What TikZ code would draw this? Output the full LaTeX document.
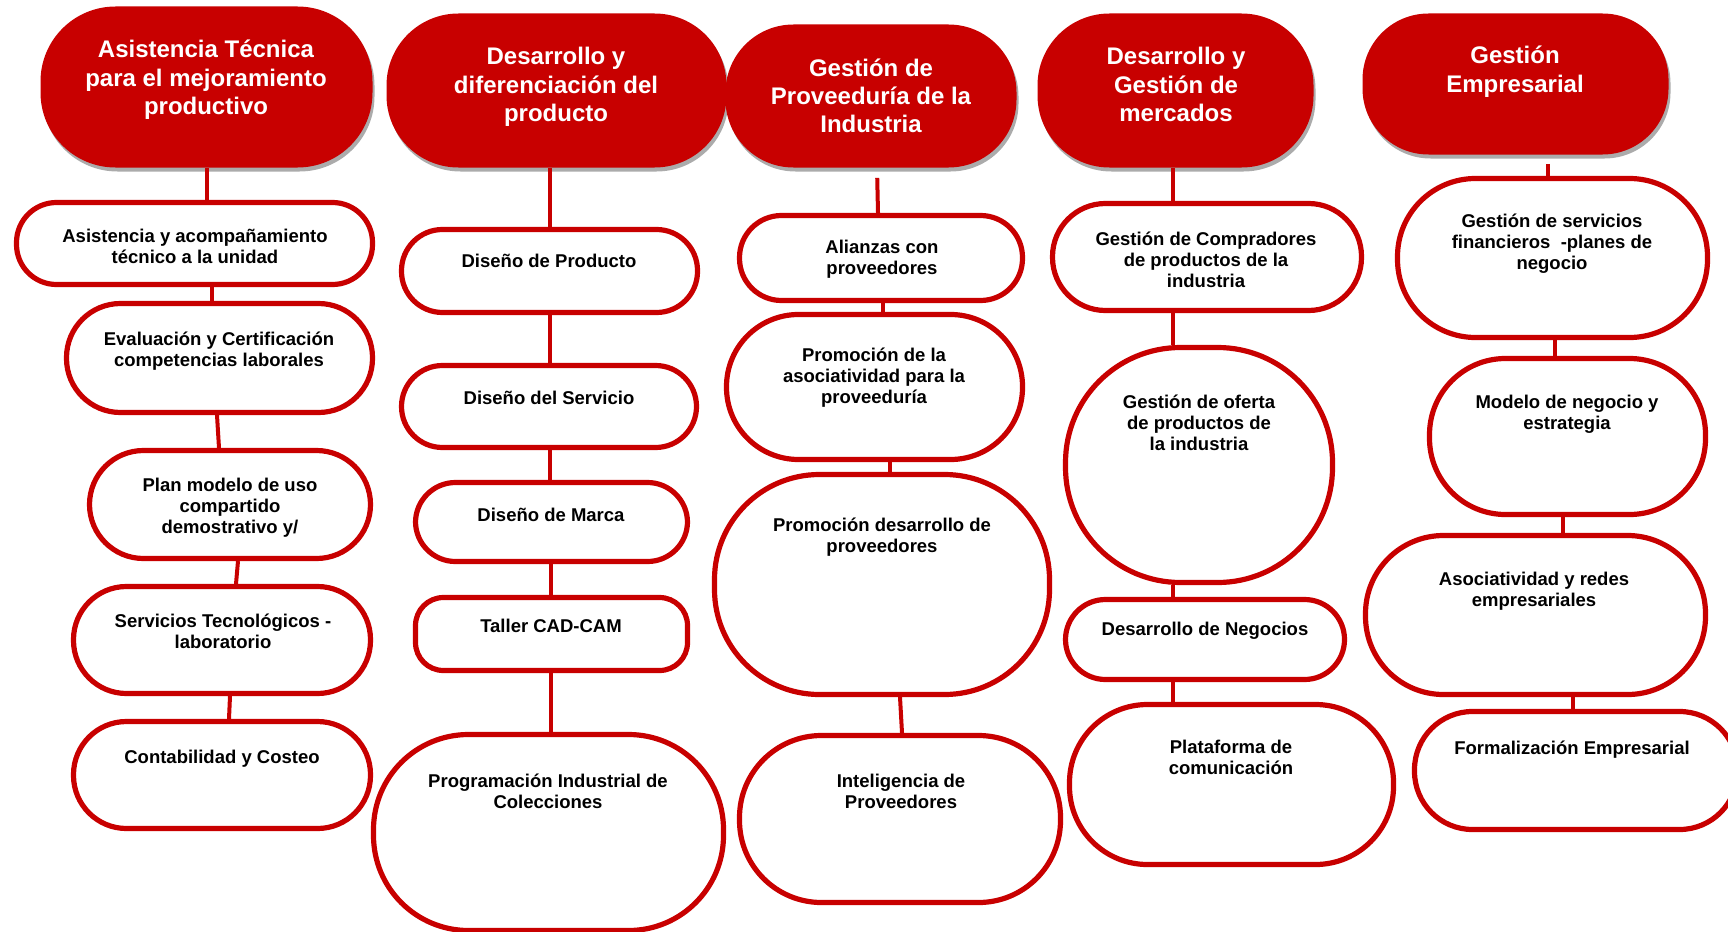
\documentclass[tikz,border=0pt]{standalone}
\usepackage{fontspec}
\setmainfont{Liberation Sans}
\usetikzlibrary{shadows}
\definecolor{brandred}{RGB}{200,0,0}

% centred multi-line text whose reference point is the first baseline
\newcommand\lns[1]{\begin{tabular}[t]{@{}c@{}}#1\end{tabular}}

% box from its outer extents: style, name, x1, y1, x2, y2, corner radius
\newcommand\boxat[7]{%
  \node[#1, minimum width={(#5-#3-5)*0.5pt}, minimum height={(#6-#4-5)*0.5pt},
        rounded corners={#7*0.5pt}] (#2) at ({(#3+#5)/2},{(#4+#6)/2}) {};}

\tikzset{
  headbox/.style={rectangle, fill=brandred, draw=none, inner sep=0pt,
    drop shadow={shadow xshift=1pt, shadow yshift=-2pt, fill=black!60, opacity=0.55}},
  itembox/.style={rectangle, fill=white, draw=brandred, line width=2.6pt, inner sep=0pt},
  headtxt/.style={anchor=base, inner sep=0pt, text=white,
    font=\fontsize{12}{14.15}\selectfont\bfseries},
  itemtxt/.style={anchor=base, inner sep=0pt, text=black,
    font=\fontsize{9.25}{10.5}\selectfont\bfseries},
  link/.style={draw=brandred, line width=2pt},
}

\begin{document}
\begin{tikzpicture}[x=0.5pt, y=-0.5pt]
\useasboundingbox (0,0) rectangle (1728,931);
\clip (0,0) rectangle (1728,931);

% ---------- column headers ----------
\boxat{headbox}{hA}{38}{4}{375}{170}{75}
\boxat{headbox}{hB}{384}{11}{729}{170}{72}
\boxat{headbox}{hC}{723}{22}{1019}{170}{68}
\boxat{headbox}{hD}{1035}{11}{1316}{170}{72}
\boxat{headbox}{hE}{1360}{11}{1671}{157}{66}

\node[headtxt] (thA) at (206,58)  {\lns{Asistencia Técnica\\para el mejoramiento\\productivo}};
\node[headtxt] (thB) at (556,65)  {\lns{Desarrollo y\\diferenciación del\\producto}};
\node[headtxt] (thC) at (871,76)  {\lns{Gestión de\\Proveeduría de la\\Industria}};
\node[headtxt] (thD) at (1176,65) {\lns{Desarrollo y\\Gestión de\\mercados}};
\node[headtxt] (thE) at (1515,64) {\lns{Gestión\\Empresarial}};

% ---------- column A ----------
\boxat{itembox}{a1}{14}{200}{375}{287}{40}
\boxat{itembox}{a2}{64}{301}{375}{415}{54}
\boxat{itembox}{a3}{87}{448}{373}{561}{54}
\boxat{itembox}{a4}{71}{584}{373}{696}{53}
\boxat{itembox}{a5}{71}{719}{373}{831}{53}

\node[itemtxt] (ta1) at (195,242) {\lns{Asistencia y acompañamiento\\técnico a la unidad}};
\node[itemtxt] (ta2) at (219,345) {\lns{Evaluación y Certificación\\competencias laborales}};
\node[itemtxt] (ta3) at (230,491) {\lns{Plan modelo de uso\\compartido\\demostrativo y/}};
\node[itemtxt] (ta4) at (223,627) {\lns{Servicios Tecnológicos -\\laboratorio}};
\node[itemtxt] (ta5) at (222,763) {\lns{Contabilidad y Costeo}};

% ---------- column B ----------
\boxat{itembox}{b1}{399}{227}{700}{315}{41}
\boxat{itembox}{b2}{399}{363}{699}{450}{41}
\boxat{itembox}{b3}{413}{480}{690}{564}{40}
\boxat{itembox}{b4}{413}{595}{690}{673}{28}
\boxat{itembox}{b5}{371}{732}{726}{933}{95}

\node[itemtxt] (tb1) at (549,267) {\lns{Diseño de Producto}};
\node[itemtxt] (tb2) at (549,404) {\lns{Diseño del Servicio}};
\node[itemtxt] (tb3) at (551,521) {\lns{Diseño de Marca}};
\node[itemtxt] (tb4) at (551,632) {\lns{Taller CAD-CAM}};
\node[itemtxt] (tb5) at (548,787) {\lns{Programación Industrial de\\Colecciones}};

% ---------- column C ----------
\boxat{itembox}{c1}{737}{213}{1025}{303}{42}
\boxat{itembox}{c2}{724}{312}{1025}{462}{72}
\boxat{itembox}{c3}{712}{472}{1052}{697}{105}
\boxat{itembox}{c4}{737}{733}{1063}{905}{82}

\node[itemtxt] (tc1) at (882,253) {\lns{Alianzas con\\proveedores}};
\node[itemtxt] (tc2) at (874,361) {\lns{Promoción de la\\asociatividad para la\\proveeduría}};
\node[itemtxt] (tc3) at (882,531) {\lns{Promoción desarrollo de\\proveedores}};
\node[itemtxt] (tc4) at (901,787) {\lns{Inteligencia de\\Proveedores}};

% ---------- column D ----------
\boxat{itembox}{d1}{1050}{201}{1364}{313}{53}
\boxat{itembox}{d2}{1063}{345}{1335}{585}{115}
\boxat{itembox}{d3}{1063}{597}{1347}{682}{40}
\boxat{itembox}{d4}{1067}{702}{1396}{867}{78}

\node[itemtxt] (td1) at (1206,245) {\lns{Gestión de Compradores\\de productos de la\\industria}};
\node[itemtxt] (td2) at (1199,408) {\lns{Gestión de oferta\\de productos de\\la industria}};
\node[itemtxt] (td3) at (1205,635) {\lns{Desarrollo de Negocios}};
\node[itemtxt] (td4) at (1231,753) {\lns{Plataforma de\\comunicación}};

% ---------- column E ----------
\boxat{itembox}{e1}{1395}{176}{1710}{340}{78}
\boxat{itembox}{e2}{1427}{356}{1708}{517}{76}
\boxat{itembox}{e3}{1363}{533}{1708}{697}{78}
\boxat{itembox}{e4}{1412}{709}{1740}{832}{58}

\node[itemtxt] (te1) at (1552,227) {\lns{Gestión de servicios\\financieros\ \ -planes de\\negocio}};
\node[itemtxt] (te2) at (1567,408) {\lns{Modelo de negocio y\\estrategia}};
\node[itemtxt] (te3) at (1534,585) {\lns{Asociatividad y redes\\empresariales}};
\node[itemtxt] (te4) at (1572,754) {\lns{Formalización Empresarial}};

% ---------- connectors ----------
\draw[link] (hA.south -| 207,0) -- (a1.north -| 207,0);
\draw[link] (a1.south -| 212,0) -- (a2.north -| 212,0);
\draw[link] (a2.south -| 217,0) -- (a3.north -| 219,0);
\draw[link] (a3.south -| 238,0) -- (a4.north -| 236,0);
\draw[link] (a4.south -| 230,0) -- (a5.north -| 229,0);

\draw[link] (hB.south -| 550,0) -- (b1.north -| 550,0);
\draw[link] (b1.south -| 550,0) -- (b2.north -| 550,0);
\draw[link] (b2.south -| 550,0) -- (b3.north -| 550,0);
\draw[link] (b3.south -| 551,0) -- (b4.north -| 551,0);
\draw[link] (b4.south -| 551,0) -- (b5.north -| 551,0);

\draw[link, shorten <=5pt] (hC.south -| 877,0) -- (c1.north -| 878,0);
\draw[link] (c1.south -| 883,0) -- (c2.north -| 883,0);
\draw[link] (c2.south -| 890,0) -- (c3.north -| 890,0);
\draw[link] (c3.south -| 900,0) -- (c4.north -| 902,0);

\draw[link] (hD.south -| 1173,0) -- (d1.north -| 1173,0);
\draw[link] (d1.south -| 1173,0) -- (d2.north -| 1173,0);
\draw[link] (d2.south -| 1173,0) -- (d3.north -| 1173,0);
\draw[link] (d3.south -| 1173,0) -- (d4.north -| 1173,0);

\draw[link, shorten <=4.5pt] (hE.south -| 1548,0) -- (e1.north -| 1548,0);
\draw[link] (e1.south -| 1555,0) -- (e2.north -| 1555,0);
\draw[link] (e2.south -| 1563,0) -- (e3.north -| 1563,0);
\draw[link] (e3.south -| 1573,0) -- (e4.north -| 1573,0);
\end{tikzpicture}
\end{document}
